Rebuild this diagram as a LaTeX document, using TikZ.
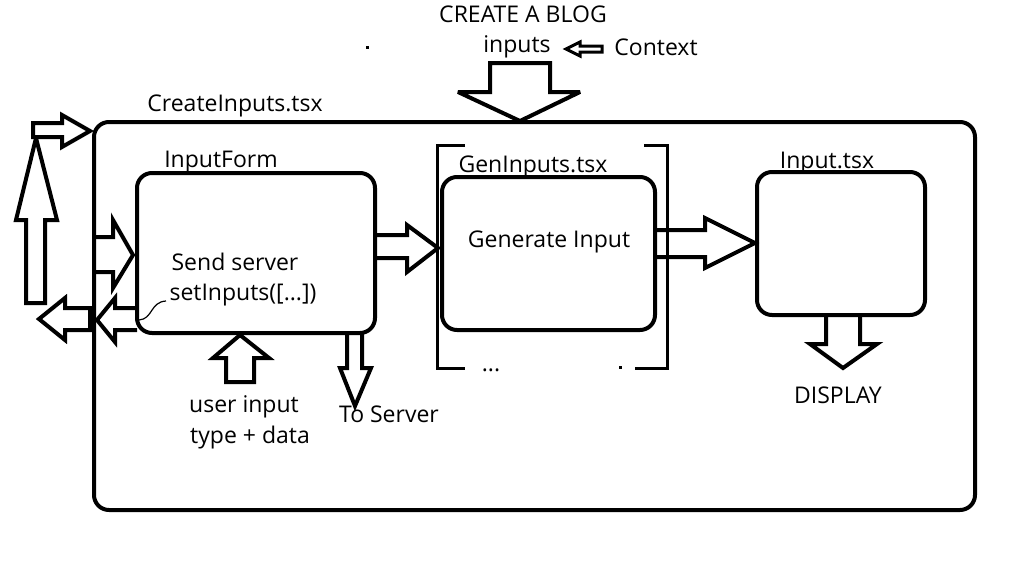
\documentclass[tikz,border=0pt]{standalone}
\usepackage{fontspec}
\setmainfont{Open Sans}
\begin{document}
\begin{tikzpicture}[x=1pt,y=-1pt,line join=miter,miter limit=4,
  ln/.style={line width=4pt},
  thin/.style={line width=3pt},
  box/.style={draw,line width=4pt,rounded corners=15pt,inner sep=0pt,outer sep=0pt},
  txt/.style={inner sep=0pt,anchor=base,font=\fontsize{23}{27}\selectfont}]
\useasboundingbox (0,0) rectangle (1012,560);
% boxes
\node[box,minimum width=881pt,minimum height=388pt] (outer) at (534.5,316) {};
\node[box,minimum width=238pt,minimum height=160pt] (form) at (256,253) {};
\node[box,minimum width=213pt,minimum height=153pt] (gen) at (548.5,253.5) {};
\node[box,minimum width=168pt,minimum height=143pt] (inp) at (841,243.5) {};
% bracket around GenInputs
\draw[thin] (465,145) -- (437,145) -- (437,368) -- (465,368);
\draw[thin] (644,145) -- (667,145) -- (667,368) -- (635,368);
% labels
\node[txt] (tcreate) at (523,22) {CREATE A BLOG};
\node[txt] (tinputs) at (517,52) {inputs};
\node[txt] (tcontext) at (656,55) {Context};
\node[txt] (tci) at (235,111) {CreateInputs.tsx};
\node[txt] (tform) at (221,167) {InputForm};
\node[txt] (tgen) at (533,172) {GenInputs.tsx};
\node[txt] (tinp) at (827,168) {Input.tsx};
\node[txt] (tgi) at (549,247) {Generate Input};
\node[txt] (tsend) at (235,270) {Send server};
\node[txt] (tset) at (243,300) {setInputs([...])};
\node[txt] (tuser) at (244,412) {user input};
\node[txt] (ttype) at (250,443) {type + data};
\node[txt] (tserver) at (389,422) {To Server};
\node[txt] (tdisp) at (838,403) {DISPLAY};
\node[txt] (tdots) at (491,371) {...};
\fill (365.5,45.5) rectangle (368.5,48.5);
\fill (618.5,366) rectangle (621.5,369);
% squiggle
\draw[line width=1.2pt] (166,301) .. controls (150,302) and (153,319) .. (139,320);
% block arrows
% top down arrow
\draw[ln] (490,63) -- (550,63) -- (550,92) -- (580,92) -- (520,121) -- (458,92) -- (490,92) -- cycle;
% context arrow
\draw[line width=3pt] (602,46) -- (580,46) -- (580,42) -- (566,49) -- (580,56) -- (580,52) -- (602,52) -- cycle;
% top-left right arrow
\draw[ln] (33,123) -- (62,123) -- (62,115) -- (90,131) -- (62,147) -- (62,137) -- (33,137) -- cycle;
% up arrow
\draw[ln] (26,303) -- (26,220) -- (16,220) -- (36,138) -- (57,220) -- (45,220) -- (45,303) -- cycle;
% right arrow into InputForm
\draw[ln] (94,237) -- (113,237) -- (113,220) -- (133,255) -- (113,288) -- (113,272) -- (94,272);
% left arrow inside (from form)
\draw[ln] (137,308) -- (115,308) -- (115,298) -- (97,320) -- (115,342) -- (115,330) -- (137,330);
% left arrow outside
\draw[ln] (90,308) -- (65,308) -- (65,298) -- (39,319) -- (65,340) -- (65,330) -- (90,330) -- cycle;
% form -> gen
\draw[ln] (375,235) -- (407,235) -- (407,225) -- (438,248) -- (407,272) -- (407,258) -- (375,258);
% gen -> input
\draw[ln] (655,230) -- (705,230) -- (705,218) -- (755,243) -- (705,268) -- (705,257) -- (655,257);
% display arrow
\draw[ln] (826,315) -- (826,344) -- (810,344) -- (843,368) -- (877,344) -- (860,344) -- (860,315);
% user input arrow
\draw[ln] (226,382) -- (226,358) -- (213,358) -- (240,335) -- (269,358) -- (254,358) -- (254,382) -- cycle;
% to server arrow
\draw[ln] (347,333) -- (347,368) -- (340,368) -- (355,406) -- (371,368) -- (362,368) -- (362,333);
\end{tikzpicture}
\end{document}
